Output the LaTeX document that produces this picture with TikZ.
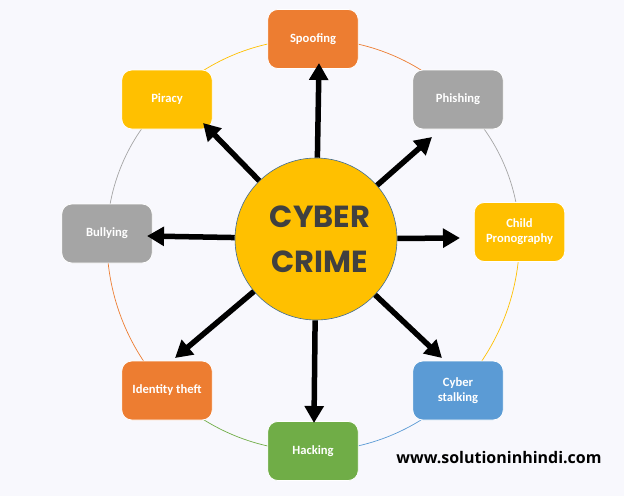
\documentclass[tikz,border=0pt]{standalone}
\usepackage{fontspec}
\usepackage{xcolor}
\usetikzlibrary{arrows.meta,backgrounds}
\setmainfont{Carlito}
\newfontfamily\hubfont{Poppins}
\newfontfamily\webfont{Open Sans}
\definecolor{pagebg}{HTML}{F8F8FD}
\definecolor{msorange}{HTML}{ED7D31}
\definecolor{msgray}{HTML}{A5A5A5}
\definecolor{msyellow}{HTML}{FFC000}
\definecolor{msblue}{HTML}{5B9BD5}
\definecolor{msgreen}{HTML}{70AD47}
\definecolor{hubtext}{HTML}{404040}

\begin{document}
\begin{tikzpicture}[x=1pt,y=-1pt,>={Triangle[length=17pt,width=18.5pt]},
	crime/.style={draw=white,line width=0.8pt,rounded corners=10pt,minimum width=90.5pt,
		minimum height=59pt,inner sep=0pt,align=center,text=white,
		font=\bfseries\fontsize{12.6}{15}\selectfont},
	hub/.style={circle,draw=msblue!70!black,line width=0.6pt,fill=msyellow,minimum size=162pt,
		inner sep=0pt,align=center,text=hubtext,font=\hubfont\bfseries\fontsize{30.5}{45}\selectfont},
	spoke/.style={->,line width=5.5pt},
	ring/.style={line width=0.7pt}]
	\node[hub] (hub) at (316,239) {\hspace*{8pt}CYBER\\\hspace*{8pt}CRIME};
	\foreach \n/\x/\y/\c/\l in {
			spoofing/313/39/msorange/Spoofing,
			phishing/458/99.5/msgray/Phishing,
			child/519.5/232/msyellow/{Child\\Pronography},
			stalking/458/390.5/msblue/{Cyber\\stalking},
			hacking/313/451/msgreen/Hacking,
			identity/167/390.5/msorange/Identity theft,
			bullying/107/233.5/msgray/Bullying,
			piracy/167/99.5/msyellow/Piracy} {
		\node[crime,fill=\c] (\n) at (\x,\y) {\l};
	};
	% ring goes behind the boxes
	\begin{scope}[on background layer]
		\fill[pagebg] (0,0) rectangle (624,496);
		\foreach \a/\b/\c in {
				spoofing/phishing/msorange,
				phishing/child/msgray,
				child/stalking/msyellow,
				stalking/hacking/msblue,
				hacking/identity/msgreen,
				identity/bullying/msorange,
				bullying/piracy/msgray,
				piracy/spoofing/msyellow} {
			\draw[ring,\c] (\a.center) to[bend left=22.5,looseness=0.89] (\b.center);
		};
	\end{scope}
	\foreach \n/\x/\y in {
			spoofing/319/63,
			phishing/432/137,
			child/460/238,
			stalking/442/358,
			hacking/314/423,
			identity/175/358,
			bullying/147/236,
			piracy/203/123} {
		\coordinate (\n tip) at (\x,\y);
		\draw[spoke] (hub) -- (\n tip);
	};
	\node[font=\webfont\bfseries\fontsize{16}{18}\selectfont,text=black] (site) at (499,458) {www.solutioninhindi.com};
\end{tikzpicture}
\end{document}
